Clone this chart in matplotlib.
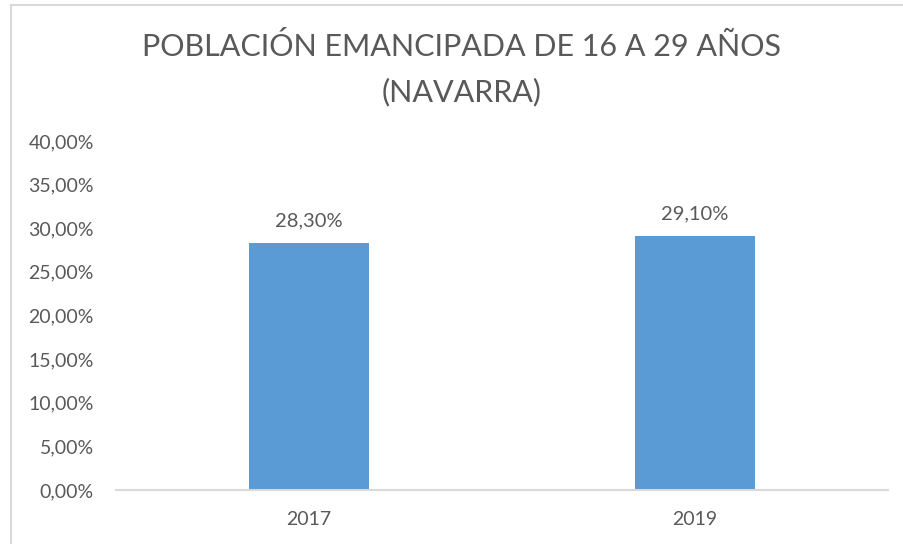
"""Población emancipada de 16 a 29 años (Navarra) - bar chart, Excel style."""

import matplotlib
matplotlib.use("Agg")
import matplotlib.pyplot as plt
from matplotlib.lines import Line2D
from matplotlib.ticker import FuncFormatter, MultipleLocator

plt.rcParams.update({"font.family": ["Lato", "DejaVu Sans"]})

years = ["2017", "2019"]
share = [0.283, 0.291]

TXT = "#595959"
BAR = "#5B9BD5"
GRID = "#D9D9D9"


def pct(v, _pos=None, dec=2):
    return f"{v * 100:.{dec}f}%".replace(".", ",")


fig = plt.figure(figsize=(9.04, 5.44), dpi=100)
ax = fig.add_axes([116 / 904, 54 / 544, 772 / 904, 349 / 544])

x = range(len(years))
bars = ax.bar(x, share, width=0.313, color=BAR)
for b, v in zip(bars, share):
    ax.annotate(pct(v), (b.get_x() + b.get_width() / 2, v), xytext=(0, 10),
                textcoords="offset points", ha="center", va="bottom",
                fontsize=14.5, color=TXT)

ax.set_xlim(-0.5, len(years) - 0.5)
ax.set_ylim(0, 0.40)
ax.yaxis.set_major_locator(MultipleLocator(0.05))
ax.yaxis.set_major_formatter(FuncFormatter(pct))
ax.set_xticks(list(x))
ax.set_xticklabels(years)
ax.tick_params(axis="both", length=0, labelsize=14, labelcolor=TXT)
ax.tick_params(axis="y", pad=16)
ax.tick_params(axis="x", pad=15)

for s in ["top", "right", "left"]:
    ax.spines[s].set_visible(False)
ax.spines["bottom"].set_color(GRID)
ax.spines["bottom"].set_linewidth(1.5)

fig.text(462 / 904, 1 - 47 / 544, "POBLACIÓN EMANCIPADA DE 16 A 29 AÑOS",
         ha="center", va="center", fontsize=22, color=TXT)
fig.text(462 / 904, 1 - 92 / 544, "(NAVARRA)",
         ha="center", va="center", fontsize=22, color=TXT)

# chart frame (only left and top edges fall inside the crop)
fig.add_artist(Line2D([11 / 904, 11 / 904], [0, 1 - 5 / 544], color=GRID, lw=1.5))
fig.add_artist(Line2D([11 / 904, 1], [1 - 5 / 544, 1 - 5 / 544], color=GRID, lw=1.5))

fig.savefig("out.png", dpi=100, facecolor="white")
